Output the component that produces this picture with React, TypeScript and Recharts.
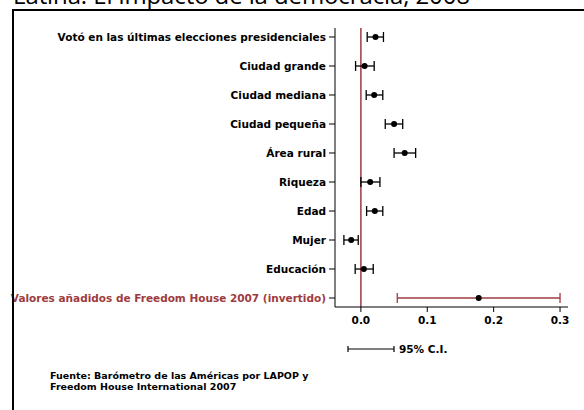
import React from "react"
import {
  ComposedChart,
  Scatter,
  ErrorBar,
  XAxis,
  YAxis,
  ReferenceLine,
} from "recharts"

const labels = [
  "Votó en las últimas elecciones presidenciales",
  "Ciudad grande",
  "Ciudad mediana",
  "Ciudad pequeña",
  "Área rural",
  "Riqueza",
  "Edad",
  "Mujer",
  "Educación",
  "Valores añadidos de Freedom House 2007 (invertido)",
]
const estimates = [0.022, 0.0056, 0.02, 0.05, 0.066, 0.014, 0.021, -0.0146, 0.0045, 0.1775]
const lower = [0.0095, -0.008, 0.008, 0.0367, 0.05, 0.0, 0.0086, -0.0256, -0.0086, 0.0548]
const upper = [0.034, 0.02, 0.033, 0.063, 0.0825, 0.0287, 0.033, -0.004, 0.0186, 0.3]
const xTicks = [0, 0.1, 0.2, 0.3]

const RED = "#9e3b40"
const FONT = "'DejaVu Sans', Verdana, sans-serif"

const rows = labels.map((label, i) => ({
  label,
  y: i + 1,
  x: estimates[i],
  err: [estimates[i] - lower[i], upper[i] - estimates[i]],
}))
const blackRows = rows.slice(0, 9)
const redRows = rows.slice(9)

const Dot = (props: any) => <circle cx={props.cx} cy={props.cy} r={3} fill="#000" />

const YTick = (props: any) => {
  const { x, y, payload } = props
  const i = payload.value - 1
  return (
    <text
      x={x}
      y={y}
      dy={4}
      textAnchor="end"
      fontFamily={FONT}
      fontWeight="bold"
      fontSize={10.5}
      fill={i === 9 ? RED : "#000"}
    >
      {labels[i]}
    </text>
  )
}

export default function App() {
  return (
    <div style={{ position: "absolute", left: 0, top: 0, width: 584, height: 410, background: "#fff", overflow: "hidden" }}>
      <ComposedChart
        width={584}
        height={410}
        margin={{ top: 28, right: 16, bottom: 73, left: 5 }}
      >
        <XAxis
          type="number"
          dataKey="x"
          domain={[-0.039, 0.312]}
          ticks={xTicks}
          allowDataOverflow
          height={30}
          tickSize={5}
          tickMargin={5}
          tickFormatter={(v: number) => v.toFixed(1)}
          tick={{ fill: "#000", fontSize: 10.5, fontWeight: "bold", fontFamily: FONT }}
          stroke="#000"
        />
        <YAxis
          type="number"
          dataKey="y"
          domain={[0.69, 10.31]}
          reversed
          ticks={[1, 2, 3, 4, 5, 6, 7, 8, 9, 10]}
          width={330}
          tickSize={6}
          tickMargin={3}
          tick={<YTick />}
          stroke="#000"
        />
        <ReferenceLine x={0} stroke={RED} strokeWidth={1.5} />
        <Scatter data={blackRows} shape={<Dot />} isAnimationActive={false}>
          <ErrorBar dataKey="err" direction="x" width={5} stroke="#000" strokeWidth={1.3} isAnimationActive={false} />
        </Scatter>
        <Scatter data={redRows} shape={<Dot />} isAnimationActive={false}>
          <ErrorBar dataKey="err" direction="x" width={5} stroke={RED} strokeWidth={1.3} isAnimationActive={false} />
        </Scatter>
      </ComposedChart>
      <svg width={584} height={410} style={{ position: "absolute", left: 0, top: 0, pointerEvents: "none" }}>
        <text x={13} y={4} fontFamily="'Open Sans', sans-serif" fontSize={24} textLength={457} fill="#000">
          Latina: El impacto de la democracia, 2008
        </text>
        <path d="M13,420 L13,10 L600,10" fill="none" stroke="#000" strokeWidth={2} />
        <line x1={348} y1={349} x2={394} y2={349} stroke="#000" strokeWidth={1.2} />
        <line x1={348} y1={346} x2={348} y2={352} stroke="#000" strokeWidth={1.2} />
        <line x1={394} y1={346} x2={394} y2={352} stroke="#000" strokeWidth={1.2} />
        <text x={399} y={353} fontFamily={FONT} fontWeight="bold" fontSize={10.5} fill="#000">95% C.I.</text>
        <text x={50} y={379} fontFamily={FONT} fontWeight="bold" fontSize={9.5} fill="#000">
          Fuente: Barómetro de las Américas por LAPOP y
        </text>
        <text x={50} y={390} fontFamily={FONT} fontWeight="bold" fontSize={9.5} fill="#000">
          Freedom House International 2007
        </text>
      </svg>
    </div>
  )
}
